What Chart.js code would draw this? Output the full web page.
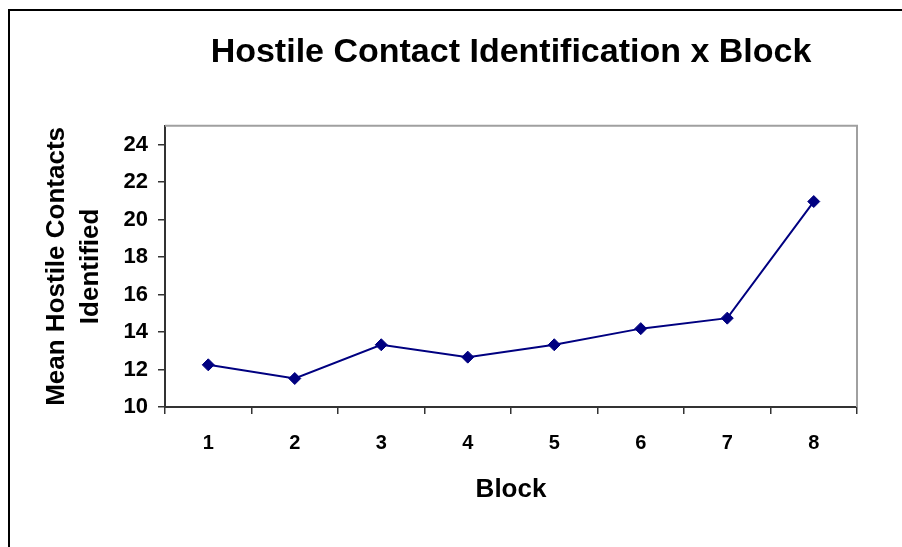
<!DOCTYPE html>
<html>
<head>
<meta charset="utf-8">
<script src="https://cdn.jsdelivr.net/npm/chart.js@4.4.0/dist/chart.umd.min.js"></script>
<style>
  html, body { margin: 0; padding: 0; background: #ffffff; }
  #wrap { width: 902px; height: 547px; position: relative; }
</style>
</head>
<body>
<div id="wrap"><canvas id="c" width="902" height="547"></canvas></div>
<script>
const blocks = ['1', '2', '3', '4', '5', '6', '7', '8'];
const meanHostileContacts = [12.25, 11.52, 13.32, 12.66, 13.32, 14.18, 14.74, 20.96];
const yTickValues = [10, 12, 14, 16, 18, 20, 22, 24];

const chartTitle = 'Hostile Contact Identification x Block';
const xTitle = 'Block';
const yTitle = ['Mean Hostile Contacts', 'Identified'];

const FONT = '"Liberation Sans", Arial, Helvetica, sans-serif';

const framePlugin = {
  id: 'frame',
  beforeDraw(chart) {
    const ctx = chart.ctx;
    ctx.save();
    ctx.fillStyle = '#ffffff';
    ctx.fillRect(0, 0, chart.width, chart.height);
    ctx.fillStyle = '#000000';
    ctx.fillRect(8, 9, chart.width - 8, 2);
    ctx.fillRect(8, 9, 2, chart.height - 9);
    ctx.restore();
  },
  beforeDatasetsDraw(chart) {
    const a = chart.chartArea;
    const ctx = chart.ctx;
    ctx.save();
    ctx.strokeStyle = '#a0a0a0';
    ctx.lineWidth = 2;
    ctx.beginPath();
    ctx.moveTo(a.left, a.top);
    ctx.lineTo(a.right, a.top);
    ctx.lineTo(a.right, a.bottom);
    ctx.stroke();
    ctx.restore();
  }
};

new Chart(document.getElementById('c'), {
  type: 'line',
  data: {
    labels: blocks,
    datasets: [{
      data: meanHostileContacts,
      borderColor: '#000080',
      backgroundColor: '#000080',
      borderWidth: 2,
      pointStyle: 'rectRot',
      pointRadius: 6,
      pointBorderWidth: 1,
      pointBackgroundColor: '#000080',
      pointBorderColor: '#000080',
      tension: 0,
      fill: false
    }]
  },
  options: {
    responsive: false,
    animation: false,
    devicePixelRatio: 1,
    layout: { padding: { left: 0, right: 45, top: 0, bottom: 0 } },
    plugins: {
      legend: { display: false },
      tooltip: { enabled: false },
      title: {
        display: true,
        text: chartTitle,
        fullSize: false,
        color: '#000000',
        font: { family: FONT, size: 34, weight: 'bold', lineHeight: 1.2 },
        padding: { top: 32, bottom: 53 }
      }
    },
    scales: {
      x: {
        type: 'category',
        offset: true,
        grid: {
          offset: true,
          drawOnChartArea: false,
          drawTicks: true,
          tickLength: 7,
          tickColor: '#333333',
          lineWidth: 1.5
        },
        border: { display: true, color: '#333333', width: 2 },
        ticks: {
          color: '#000000',
          padding: 17,
          maxRotation: 0,
          font: { family: FONT, size: 20, weight: 'bold' }
        },
        title: {
          display: true,
          text: xTitle,
          color: '#000000',
          font: { family: FONT, size: 26, weight: 'bold', lineHeight: 1.3 },
          padding: { top: 0, bottom: 40 }
        },
        afterFit(scale) { scale.height = 140; }
      },
      y: {
        type: 'linear',
        min: 10,
        max: 25,
        grid: {
          drawOnChartArea: false,
          drawTicks: true,
          tickLength: 7,
          tickColor: '#333333',
          lineWidth: 1.5
        },
        border: { display: true, color: '#333333', width: 2 },
        ticks: {
          stepSize: 2,
          color: '#000000',
          padding: 10,
          font: { family: FONT, size: 22, weight: 'bold' }
        },
        afterBuildTicks(scale) {
          scale.ticks = yTickValues.map(v => ({ value: v }));
        },
        title: {
          display: true,
          text: yTitle,
          color: '#000000',
          font: { family: FONT, size: 26, weight: 'bold', lineHeight: 1.3 },
          padding: { top: 40, bottom: 0 }
        },
        afterFit(scale) { scale.width = 165; }
      }
    }
  },
  plugins: [framePlugin]
});
</script>
</body>
</html>
